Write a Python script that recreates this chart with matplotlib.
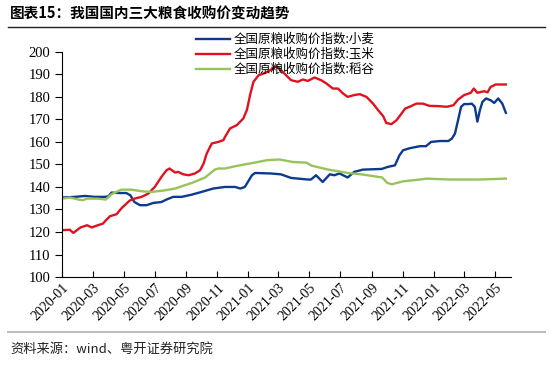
import matplotlib
matplotlib.use('Agg')
import matplotlib.pyplot as plt
import matplotlib.dates as mdates
from matplotlib.lines import Line2D
import pandas as pd

plt.rcParams['font.family'] = ['Liberation Serif', 'Noto Sans CJK SC']

# 小麦
wheat_dates = ['2020-01-01', '2020-01-26', '2020-02-15', '2020-03-05', '2020-03-24', '2020-04-01',
               '2020-04-07', '2020-04-23', '2020-05-06', '2020-05-14', '2020-05-22', '2020-06-02',
               '2020-06-15', '2020-06-28', '2020-07-14', '2020-07-24', '2020-08-06', '2020-08-23',
               '2020-09-12', '2020-10-01', '2020-10-24', '2020-11-16', '2020-12-06', '2020-12-16',
               '2020-12-25', '2021-01-08', '2021-01-14', '2021-02-13', '2021-03-06', '2021-03-26',
               '2021-04-28', '2021-05-04', '2021-05-14', '2021-05-27', '2021-06-10', '2021-06-19',
               '2021-06-29', '2021-07-15', '2021-07-28', '2021-08-14', '2021-09-20', '2021-10-02',
               '2021-10-16', '2021-10-25', '2021-11-01', '2021-11-14', '2021-12-04', '2021-12-16',
               '2021-12-26', '2022-01-13', '2022-01-29', '2022-02-05', '2022-02-11', '2022-02-17',
               '2022-02-23', '2022-03-01', '2022-03-10', '2022-03-16', '2022-03-22', '2022-03-27',
               '2022-04-01', '2022-04-06', '2022-04-13', '2022-04-22', '2022-04-29', '2022-05-07',
               '2022-05-15', '2022-05-22']
wheat = [135.3, 135.6, 136.0, 135.6, 135.6, 135.8,
         137.5, 137.3, 137.3, 136.3, 133.3, 131.9,
         131.9, 132.9, 133.3, 134.4, 135.6, 135.6,
         136.6, 137.8, 139.3, 140.0, 140.0, 139.3,
         140.0, 145.2, 146.2, 146.0, 145.6, 144.0,
         143.3, 143.3, 145.2, 142.2, 145.6, 145.2,
         146.0, 144.2, 146.7, 147.7, 148.0, 148.9,
         149.6, 154.1, 156.3, 157.2, 158.1, 158.1,
         160.0, 160.4, 160.4, 161.5, 163.7, 169.6,
         175.6, 176.8, 176.8, 177.0, 175.6, 169.0,
         174.1, 177.8, 179.3, 178.5, 177.3, 179.3,
         177.0, 172.9]

# 玉米
corn_dates = ['2020-01-01', '2020-01-16', '2020-01-23', '2020-02-06', '2020-02-19', '2020-02-28',
              '2020-03-11', '2020-03-21', '2020-03-27', '2020-04-04', '2020-04-17', '2020-04-26',
              '2020-05-03', '2020-05-13', '2020-05-22', '2020-06-05', '2020-06-18', '2020-07-01',
              '2020-07-14', '2020-07-24', '2020-07-30', '2020-08-10', '2020-08-16', '2020-08-26',
              '2020-09-06', '2020-09-18', '2020-09-28', '2020-10-05', '2020-10-11', '2020-10-21',
              '2020-11-03', '2020-11-13', '2020-11-16', '2020-11-26', '2020-12-09', '2020-12-22',
              '2020-12-29', '2021-01-05', '2021-01-11', '2021-01-21', '2021-02-04', '2021-02-13',
              '2021-02-25', '2021-03-03', '2021-03-16', '2021-03-26', '2021-04-08', '2021-04-18',
              '2021-04-28', '2021-05-11', '2021-05-24', '2021-06-03', '2021-06-16', '2021-06-26',
              '2021-07-06', '2021-07-15', '2021-07-28', '2021-08-08', '2021-08-21', '2021-09-03',
              '2021-09-13', '2021-09-23', '2021-09-29', '2021-10-09', '2021-10-19', '2021-10-29',
              '2021-11-05', '2021-11-14', '2021-11-27', '2021-12-10', '2021-12-23', '2022-01-09',
              '2022-01-26', '2022-02-08', '2022-02-17', '2022-03-01', '2022-03-14', '2022-03-20',
              '2022-03-27', '2022-04-03', '2022-04-10', '2022-04-16', '2022-04-22', '2022-05-02',
              '2022-05-22']
corn = [120.8, 121.0, 119.6, 122.0, 123.0, 122.0,
        123.0, 123.7, 125.2, 127.0, 127.9, 130.4,
        131.9, 134.0, 134.8, 135.6, 137.0, 140.0,
        144.4, 147.4, 148.2, 146.4, 146.7, 145.6,
        145.2, 146.0, 147.4, 150.4, 154.8, 159.3,
        160.0, 160.8, 162.2, 166.0, 167.4, 170.4,
        174.1, 181.5, 186.7, 189.6, 190.7, 191.9,
        193.6, 192.6, 189.6, 187.4, 186.7, 187.7,
        187.1, 188.6, 187.4, 186.0, 183.7, 183.7,
        181.5, 180.0, 180.8, 181.2, 180.0, 177.0,
        174.1, 171.4, 168.4, 167.9, 169.6, 172.6,
        174.8, 175.6, 177.0, 177.0, 176.0, 175.9,
        175.6, 176.3, 178.8, 180.8, 181.8, 183.7,
        181.8, 182.2, 182.5, 182.0, 184.4, 185.5,
        185.5]

# 稻谷
rice_dates = ['2020-01-01', '2020-01-16', '2020-02-02', '2020-02-11', '2020-02-18', '2020-03-11',
              '2020-03-27', '2020-04-07', '2020-04-26', '2020-05-16', '2020-06-05', '2020-06-25',
              '2020-07-21', '2020-08-10', '2020-08-23', '2020-09-12', '2020-10-08', '2020-10-27',
              '2020-11-03', '2020-11-16', '2020-12-06', '2021-01-11', '2021-02-07', '2021-03-03',
              '2021-03-29', '2021-04-25', '2021-05-04', '2021-05-10', '2021-06-07', '2021-07-16',
              '2021-08-14', '2021-09-21', '2021-10-01', '2021-10-10', '2021-11-01', '2021-12-04',
              '2021-12-16', '2022-02-01', '2022-04-01', '2022-05-22']
rice = [134.8, 135.3, 134.4, 134.1, 134.8, 134.8,
        134.4, 136.8, 138.8, 138.8, 138.1, 137.8,
        138.5, 139.3, 140.3, 141.8, 144.2, 147.7,
        148.2, 148.2, 149.2, 150.7, 151.9, 152.2,
        151.1, 150.8, 149.6, 149.2, 147.7, 146.2,
        145.5, 144.2, 141.8, 141.2, 142.5, 143.3,
        143.7, 143.3, 143.3, 143.7]

labels = ['全国原粮收购价指数:小麦', '全国原粮收购价指数:玉米', '全国原粮收购价指数:稻谷']
colors = ['#0b3a8e', '#e0121f', '#96c45a']

fig = plt.figure(figsize=(5.5, 3.65), dpi=100)
ax = fig.add_axes([0.113, 0.241, 0.816, 0.617])

ax.plot(pd.to_datetime(wheat_dates), wheat, color=colors[0], lw=1.7, label=labels[0])
ax.plot(pd.to_datetime(corn_dates), corn, color=colors[1], lw=1.7, label=labels[1])
ax.plot(pd.to_datetime(rice_dates), rice, color=colors[2], lw=1.7, label=labels[2])

ax.set_xlim(pd.Timestamp('2020-01-01'), pd.Timestamp('2022-06-01'))
ax.set_ylim(100, 200)
ax.set_yticks(range(100, 201, 10))
ax.xaxis.set_major_locator(mdates.MonthLocator(bymonth=[1, 3, 5, 7, 9, 11]))
ax.xaxis.set_major_formatter(mdates.DateFormatter('%Y-%m'))
for lab in ax.get_xticklabels():
    lab.set_rotation(45)
    lab.set_ha('right')
    lab.set_rotation_mode('anchor')
ax.tick_params(axis='x', direction='in', length=4, labelsize=10, pad=3)
ax.tick_params(axis='y', direction='out', length=5, labelsize=10.5)
ax.spines['top'].set_visible(False)
ax.spines['right'].set_visible(False)

leg = ax.legend(loc='upper left', bbox_to_anchor=(190 / 550, 1 - 27 / 365),
                bbox_transform=fig.transFigure, frameon=False, handlelength=2.7,
                labelspacing=0.15, handletextpad=0.3, borderpad=0,
                prop={'family': ['Noto Sans CJK SC'], 'size': 9})

fig.text(0.018, 0.962, '图表15：我国国内三大粮食收购价变动趋势', fontsize=10.5,
         fontweight='bold', family=['Noto Sans CJK SC'], va='center')
fig.add_artist(Line2D([0.015, 0.99], [0.925, 0.925], color='#222222', lw=1))
fig.add_artist(Line2D([0.015, 0.99], [0.09, 0.09], color='#bbbbbb', lw=1.5))
fig.text(0.018, 0.044, '资料来源：wind、粤开证券研究院', fontsize=9.5,
         family=['Noto Sans CJK SC'], va='center', color='#222222')

fig.savefig('out.png', dpi=100)
